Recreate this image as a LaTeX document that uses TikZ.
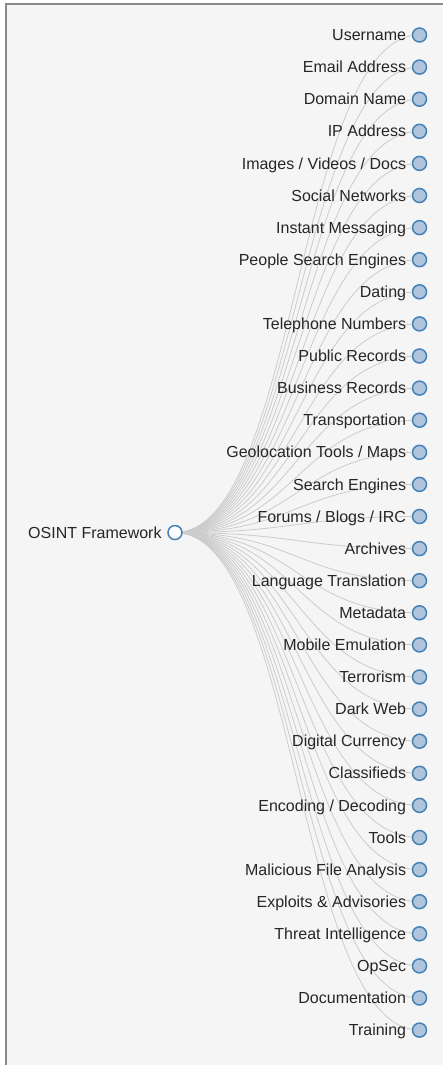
\documentclass[tikz,border=0pt]{standalone}
\usepackage{fontspec}
\setmainfont{Liberation Sans}
\usepackage{tikz}
\usetikzlibrary{positioning,backgrounds}

\definecolor{steelblue}{HTML}{4682B4}
\definecolor{lightsteelblue}{HTML}{B0C4DE}
\definecolor{linkgray}{HTML}{CCCCCC}
\definecolor{panel}{HTML}{F5F5F5}
\definecolor{frame}{HTML}{8A8A8A}

\begin{document}
\begin{tikzpicture}[x=1pt,y=1pt,node distance=32.1pt,on grid,label distance=5.5pt,
    every label/.style={inner sep=0pt,text height=11.2pt,text depth=0pt,text=black!85,
      font=\fontsize{16pt}{19pt}\selectfont},
    item/.style={circle,draw=steelblue,line width=1.5pt,minimum size=14pt,inner sep=0pt},
    leaf/.style={item,fill=lightsteelblue},
    hub/.style={item,fill=white},
    link/.style={draw=linkgray,line width=0.8pt,
      to path={.. controls +(122.25,0) and +(-122.25,0) .. (\tikztotarget)}}]
    \useasboundingbox (0,0) rectangle (442,-1065);
    \node[leaf] (n_1)  at (419.5,-35) [label=left:Username] {};
    \node[leaf] (n_2)  [below=of n_1]  [label=left:Email Address] {};
    \node[leaf] (n_3)  [below=of n_2]  [label=left:Domain Name] {};
    \node[leaf] (n_4)  [below=of n_3]  [label=left:IP Address] {};
    \node[leaf] (n_5)  [below=of n_4]  [label=left:Images / Videos / Docs] {};
    \node[leaf] (n_6)  [below=of n_5]  [label=left:Social Networks] {};
    \node[leaf] (n_7)  [below=of n_6]  [label=left:Instant Messaging] {};
    \node[leaf] (n_8)  [below=of n_7]  [label=left:People Search Engines] {};
    \node[leaf] (n_9)  [below=of n_8]  [label=left:Dating] {};
    \node[leaf] (n_10) [below=of n_9]  [label=left:Telephone Numbers] {};
    \node[leaf] (n_11) [below=of n_10] [label=left:Public Records] {};
    \node[leaf] (n_12) [below=of n_11] [label=left:Business Records] {};
    \node[leaf] (n_13) [below=of n_12] [label=left:Transportation] {};
    \node[leaf] (n_14) [below=of n_13] [label=left:Geolocation Tools / Maps] {};
    \node[leaf] (n_15) [below=of n_14] [label=left:Search Engines] {};
    \node[leaf] (n_16) [below=of n_15] [label=left:Forums / Blogs / IRC] {};
    \node[leaf] (n_17) [below=of n_16] [label=left:Archives] {};
    \node[leaf] (n_18) [below=of n_17] [label=left:Language Translation] {};
    \node[leaf] (n_19) [below=of n_18] [label=left:Metadata] {};
    \node[leaf] (n_20) [below=of n_19] [label=left:Mobile Emulation] {};
    \node[leaf] (n_21) [below=of n_20] [label=left:Terrorism] {};
    \node[leaf] (n_22) [below=of n_21] [label=left:Dark Web] {};
    \node[leaf] (n_23) [below=of n_22] [label=left:Digital Currency] {};
    \node[leaf] (n_24) [below=of n_23] [label=left:Classifieds] {};
    \node[leaf] (n_25) [below=of n_24] [label=left:Encoding / Decoding] {};
    \node[leaf] (n_26) [below=of n_25] [label=left:Tools] {};
    \node[leaf] (n_27) [below=of n_26] [label=left:Malicious File Analysis] {};
    \node[leaf] (n_28) [below=of n_27] [label=left:Exploits \& Advisories] {};
    \node[leaf] (n_29) [below=of n_28] [label=left:Threat Intelligence] {};
    \node[leaf] (n_30) [below=of n_29] [label=left:OpSec] {};
    \node[leaf] (n_31) [below=of n_30] [label=left:Documentation] {};
    \node[leaf] (n_32) [below=of n_31] [label=left:Training] {};
    \node[hub]  (n_0)  at (175,-532.55) [label=left:OSINT Framework] {};
    \begin{scope}[on background layer]
      % panel
      \fill[panel] (6,-4) rectangle (450,-1070);
      \draw[frame,line width=2pt] (6,-1070) |- (450,-4);
      % links
      \path[link]
      (n_0.center) edge (n_1.center)
      (n_0.center) edge (n_2.center)
      (n_0.center) edge (n_3.center)
      (n_0.center) edge (n_4.center)
      (n_0.center) edge (n_5.center)
      (n_0.center) edge (n_6.center)
      (n_0.center) edge (n_7.center)
      (n_0.center) edge (n_8.center)
      (n_0.center) edge (n_9.center)
      (n_0.center) edge (n_10.center)
      (n_0.center) edge (n_11.center)
      (n_0.center) edge (n_12.center)
      (n_0.center) edge (n_13.center)
      (n_0.center) edge (n_14.center)
      (n_0.center) edge (n_15.center)
      (n_0.center) edge (n_16.center)
      (n_0.center) edge (n_17.center)
      (n_0.center) edge (n_18.center)
      (n_0.center) edge (n_19.center)
      (n_0.center) edge (n_20.center)
      (n_0.center) edge (n_21.center)
      (n_0.center) edge (n_22.center)
      (n_0.center) edge (n_23.center)
      (n_0.center) edge (n_24.center)
      (n_0.center) edge (n_25.center)
      (n_0.center) edge (n_26.center)
      (n_0.center) edge (n_27.center)
      (n_0.center) edge (n_28.center)
      (n_0.center) edge (n_29.center)
      (n_0.center) edge (n_30.center)
      (n_0.center) edge (n_31.center)
      (n_0.center) edge (n_32.center);
    \end{scope}
\end{tikzpicture}
\end{document}
